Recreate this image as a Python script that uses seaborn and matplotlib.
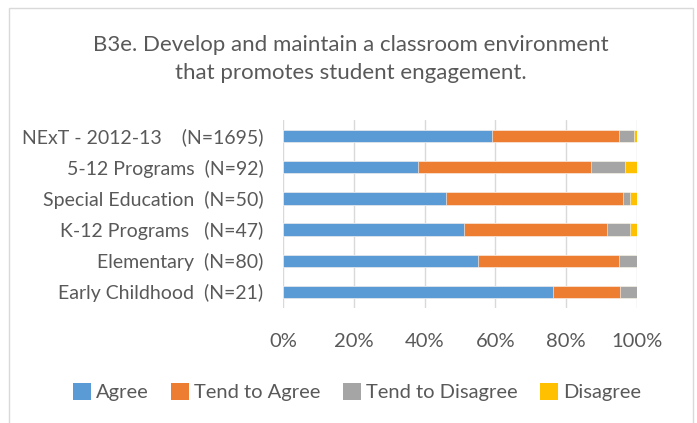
import matplotlib
matplotlib.use("Agg")
import matplotlib.pyplot as plt
import numpy as np
import pandas as pd
import seaborn as sns
from matplotlib.patches import Patch, Rectangle

groups = [
    "NExT - 2012-13    (N=1695)",
    "5-12 Programs  (N=92)",
    "Special Education  (N=50)",
    "K-12 Programs   (N=47)",
    "Elementary  (N=80)",
    "Early Childhood  (N=21)",
]
agree = [59.0, 38.0, 46.0, 51.1, 55.0, 76.2]
tend_agree = [36.0, 48.9, 50.0, 40.4, 40.0, 19.0]
tend_disagree = [4.1, 9.8, 2.0, 6.4, 5.0, 4.8]
disagree = [0.9, 3.3, 2.0, 2.1, 0.0, 0.0]

series = ["Agree", "Tend to Agree", "Tend to Disagree", "Disagree"]
colors = ["#5b9bd5", "#ed7d31", "#a5a5a5", "#ffc000"]
text_color = "#595959"

df = pd.DataFrame({
    "group": groups,
    "Agree": agree,
    "Tend to Agree": tend_agree,
    "Tend to Disagree": tend_disagree,
    "Disagree": disagree,
})
# cumulative totals so that overlapping bars look stacked
cum = df[series].cumsum(axis=1)
cum["group"] = df["group"]

sns.set_theme(style="white")
plt.rcParams["font.family"] = ["Lato", "DejaVu Sans"]

W, H = 697, 423
fig = plt.figure(figsize=(W / 100, H / 100), dpi=100)

# outer chart frame
fig.patches.append(Rectangle((9 / W, -0.05), (693 - 9) / W, (H - 8) / H + 0.05,
                             transform=fig.transFigure, fill=False,
                             edgecolor="#d9d9d9", linewidth=1.0))

ax = fig.add_axes([283 / W, (H - 307.5) / H, (637 - 283) / W, (307.5 - 120.5) / H])

for name, col in reversed(list(zip(series, colors))):
    sns.barplot(data=cum, x=name, y="group", order=groups, color=col,
                orient="h", width=0.4, ax=ax, saturation=1,
                edgecolor="white", linewidth=0.4)

ax.set_xlim(0, 100)
ax.set_xticks(np.arange(0, 101, 20))
ax.set_xticklabels([f"{t}%" for t in range(0, 101, 20)])
ax.grid(axis="x", color="#d9d9d9", linewidth=1.0)
ax.set_axisbelow(True)
for s in ax.spines.values():
    s.set_visible(False)
ax.set_xlabel("")
ax.set_ylabel("")
ax.tick_params(axis="x", length=0, pad=18, labelsize=14.5, labelcolor=text_color)
ax.tick_params(axis="y", length=0, pad=14, labelsize=14, labelcolor=text_color)

fig.text(351 / W, 1 - 45 / H, "B3e. Develop and maintain a classroom environment",
         ha="center", va="center", fontsize=16, color=text_color)
fig.text(351 / W, 1 - 73 / H, "that promotes student engagement.",
         ha="center", va="center", fontsize=16, color=text_color)

handles = [Patch(facecolor=c, edgecolor="none", label=s) for s, c in zip(series, colors)]
fig.legend(handles=handles, loc="center", bbox_to_anchor=(357 / W, 1 - 392 / H),
           ncol=4, frameon=False, fontsize=14.5, labelcolor=text_color,
           handlelength=0.9, handleheight=0.9, handletextpad=0.25, columnspacing=1.1)

fig.savefig("out.png", dpi=100)
